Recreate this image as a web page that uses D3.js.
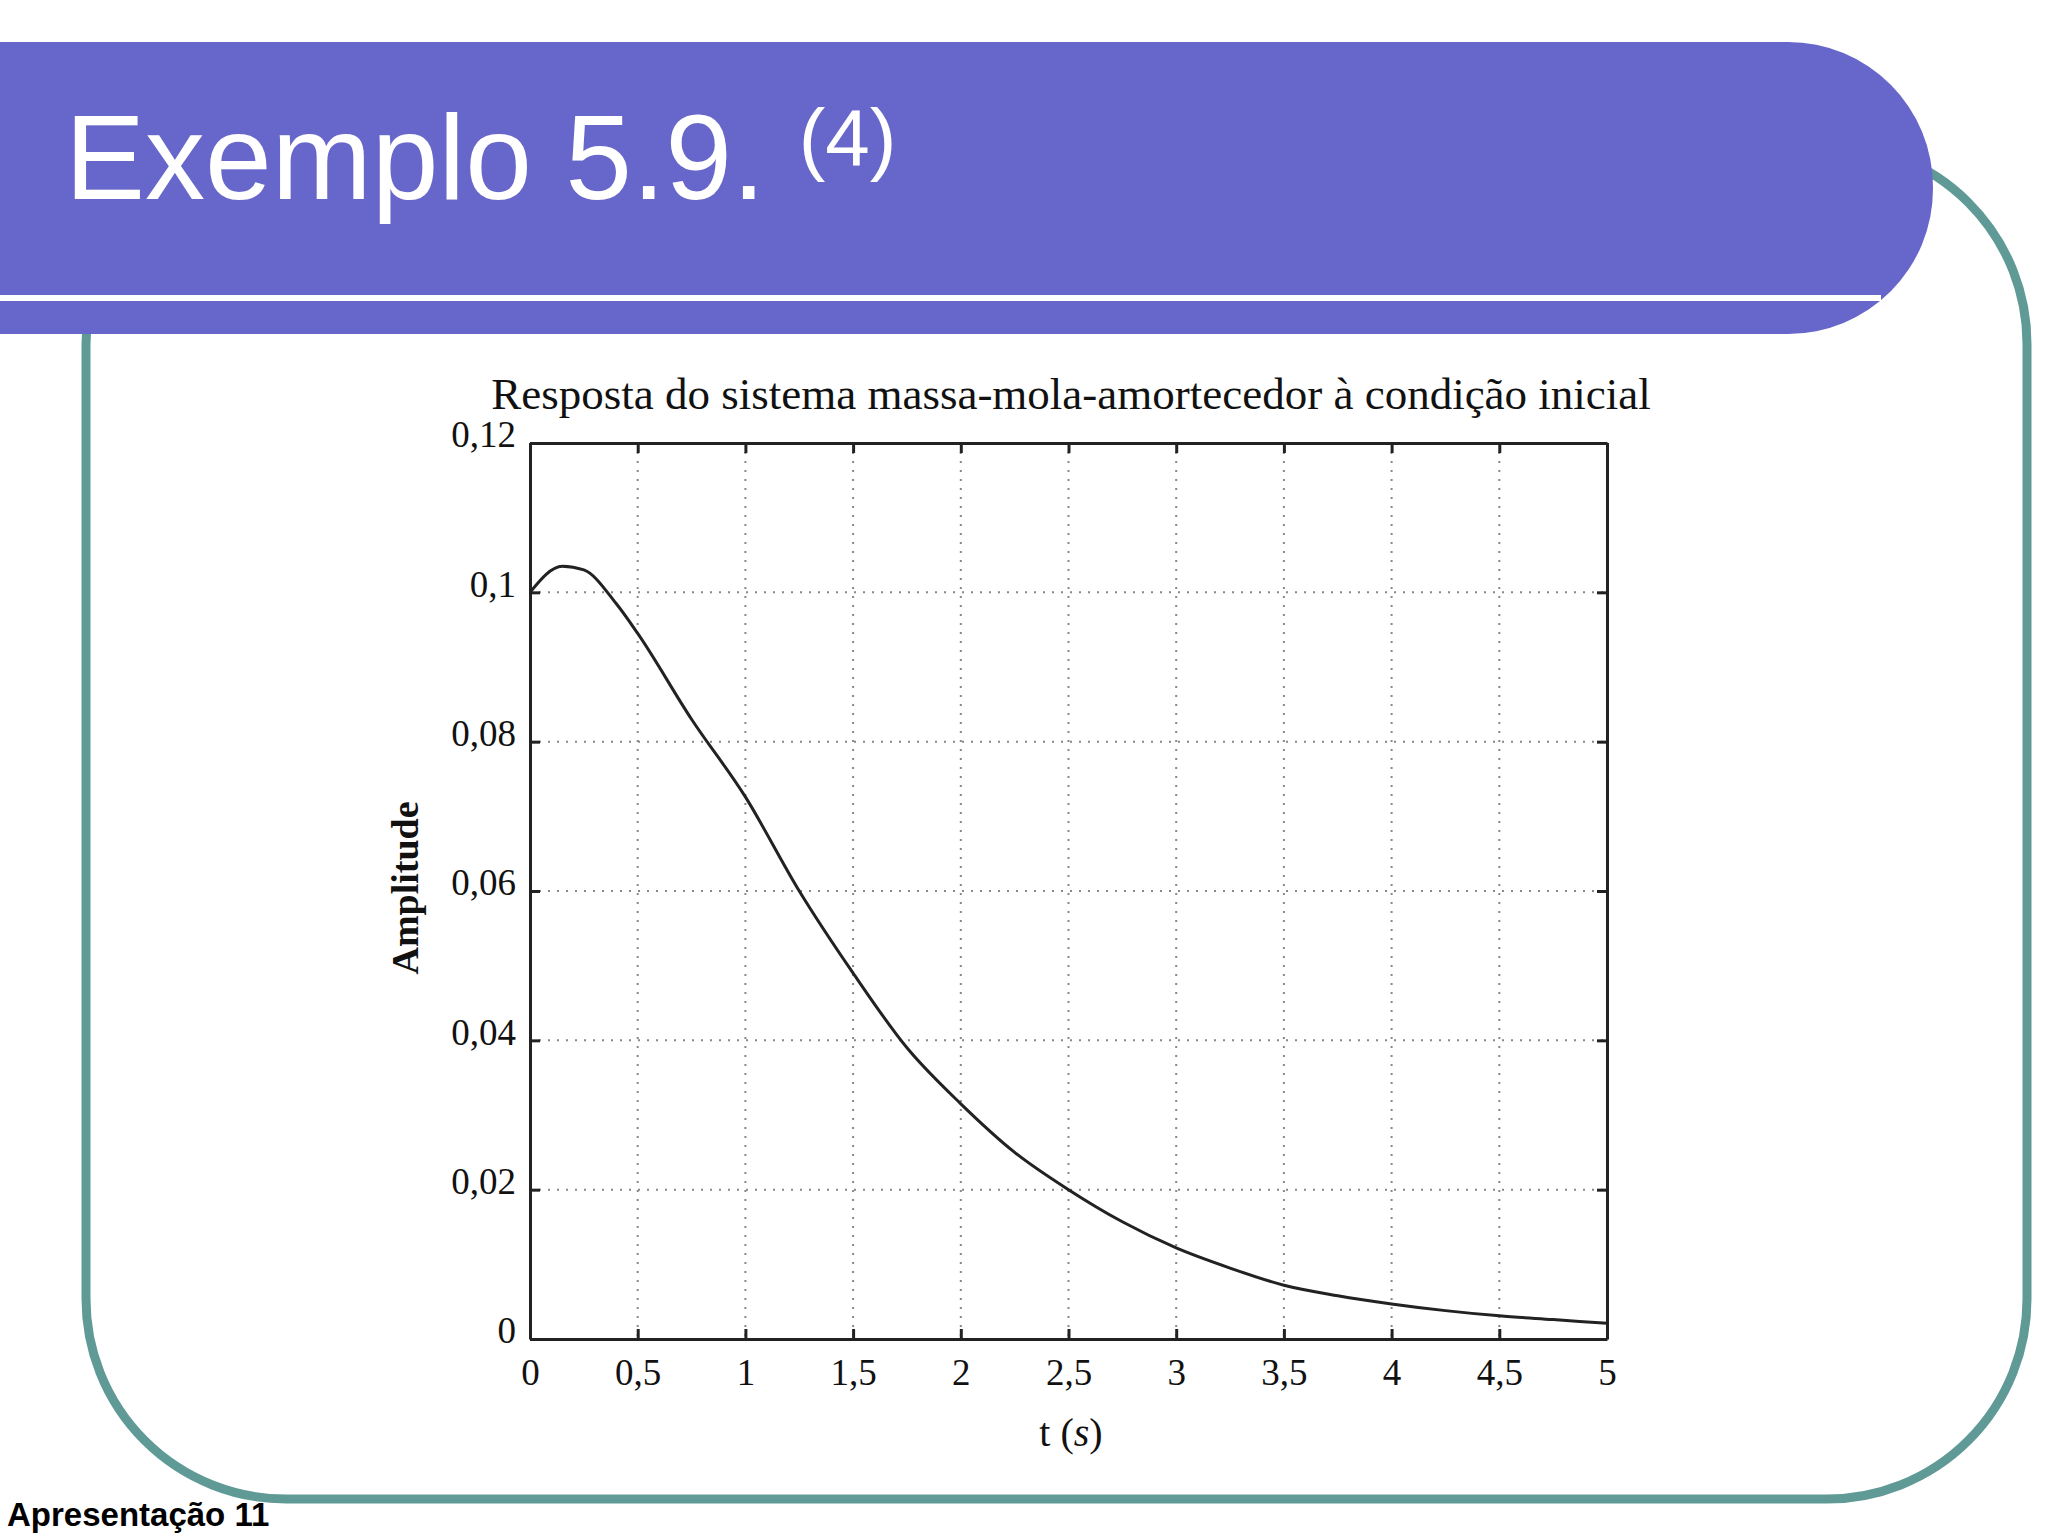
<!DOCTYPE html>
<html><head><meta charset="utf-8">
<script src="https://cdn.jsdelivr.net/npm/d3@7"></script>
<style>body{margin:0;background:#fff}</style>
</head><body>
<svg id="c" width="2048" height="1536"></svg>
<script>
// curve values
var tValues = [0, 0.15, 0.25, 0.4, 0.5, 0.75, 1.0, 1.25, 1.5, 1.75, 2.0, 2.25, 2.5, 2.75, 3.0, 3.25, 3.5, 3.75, 4.0, 4.25, 4.5, 4.75, 5.0];
var amplitude = [0.1, 0.1035, 0.103, 0.0985, 0.0945, 0.083, 0.0726, 0.060, 0.049, 0.039, 0.0315, 0.025, 0.020, 0.0157, 0.0122, 0.0095, 0.0072, 0.0058, 0.0047, 0.0038, 0.0031, 0.0026, 0.0021];
var xTicks = [0, 0.5, 1, 1.5, 2, 2.5, 3, 3.5, 4, 4.5, 5];
var yTicks = [0, 0.02, 0.04, 0.06, 0.08, 0.1, 0.12];

var svg = d3.select("#c");
var fmt = function(d) { return String(d).replace(".", ","); };

// slide frame
svg.append("rect").attr("x", 86).attr("y", 144).attr("width", 1941).attr("height", 1355)
  .attr("rx", 200).attr("fill", "none").attr("stroke", "#5f9a96").attr("stroke-width", 9);
svg.append("path")
  .attr("d", "M0,42 H1788 A145,145 0 0 1 1933,187 V189 A145,145 0 0 1 1788,334 H0 Z")
  .attr("fill", "#6767cb");
svg.append("rect").attr("x", 0).attr("y", 295).attr("width", 1881).attr("height", 6).attr("fill", "#fff");
var title = svg.append("text").attr("x", 65).attr("y", 199)
  .attr("font-family", "Liberation Sans, Arial").attr("fill", "#fff");
title.append("tspan").attr("font-size", 120).text("Exemplo 5.9. ");
title.append("tspan").attr("font-size", 80).attr("dy", -34).text("(4)");
svg.append("text").attr("x", 7).attr("y", 1526).attr("font-family", "Liberation Sans, Arial")
  .attr("font-weight", "bold").attr("font-size", 33).text("Apresentação 11");

// chart
var pLeft = 530, pRight = 1607, pTop = 443, pBottom = 1339;
var x = d3.scaleLinear().domain([0, 5]).range([pLeft, pRight]);
var y = d3.scaleLinear().domain([0, 0.12]).range([pBottom, pTop]);
var serif = "Liberation Serif, Times New Roman, serif";

var g = svg.append("g");
g.selectAll(".gx").data(xTicks.slice(1, -1)).enter().append("line")
  .attr("x1", function(d) { return x(d); }).attr("x2", function(d) { return x(d); })
  .attr("y1", pTop).attr("y2", pBottom)
  .attr("stroke", "#888").attr("stroke-width", 2).attr("stroke-dasharray", "2,7");
g.selectAll(".gy").data(yTicks.slice(1, -1)).enter().append("line")
  .attr("y1", function(d) { return y(d); }).attr("y2", function(d) { return y(d); })
  .attr("x1", pLeft).attr("x2", pRight)
  .attr("stroke", "#888").attr("stroke-width", 2).attr("stroke-dasharray", "2,7");

var xAxis = g.append("g").attr("transform", "translate(0," + pBottom + ")")
  .call(d3.axisBottom(x).tickValues(xTicks).tickFormat(fmt).tickSizeInner(-10).tickSizeOuter(0).tickPadding(20));
var xTop = g.append("g").attr("transform", "translate(0," + pTop + ")")
  .call(d3.axisTop(x).tickValues(xTicks).tickFormat("").tickSizeInner(-10).tickSizeOuter(0));
var yAxis = g.append("g").attr("transform", "translate(" + pLeft + ",0)")
  .call(d3.axisLeft(y).tickValues(yTicks).tickFormat(fmt).tickSizeInner(-10).tickSizeOuter(0).tickPadding(14));
var yRight = g.append("g").attr("transform", "translate(" + pRight + ",0)")
  .call(d3.axisRight(y).tickValues(yTicks).tickFormat("").tickSizeInner(-10).tickSizeOuter(0));
[xAxis, xTop, yAxis, yRight].forEach(function(a) {
  a.selectAll("path,line").attr("stroke", "#222").attr("stroke-width", 3);
  a.selectAll("text").attr("font-family", serif).attr("font-size", 37).attr("fill", "#111");
});
yAxis.selectAll("text").attr("dy", "0.1em");

g.append("path").datum(d3.zip(tValues, amplitude))
  .attr("d", d3.line().x(function(d) { return x(d[0]); }).y(function(d) { return y(d[1]); }).curve(d3.curveMonotoneX))
  .attr("fill", "none").attr("stroke", "#222").attr("stroke-width", 3);

g.append("text").attr("x", 1071).attr("y", 409).attr("text-anchor", "middle")
  .attr("font-family", serif).attr("font-size", 45).attr("fill", "#111")
  .text("Resposta do sistema massa-mola-amortecedor à condição inicial");
g.append("text").attr("transform", "translate(418,888) rotate(-90)").attr("text-anchor", "middle")
  .attr("font-family", serif).attr("font-size", 38).attr("font-weight", "bold").attr("fill", "#111")
  .text("Amplitude");
var xl = g.append("text").attr("x", 1071).attr("y", 1446).attr("text-anchor", "middle")
  .attr("font-family", serif).attr("font-size", 40).attr("fill", "#111");
xl.append("tspan").text("t (");
xl.append("tspan").attr("font-style", "italic").text("s");
xl.append("tspan").text(")");
</script>
</body></html>
